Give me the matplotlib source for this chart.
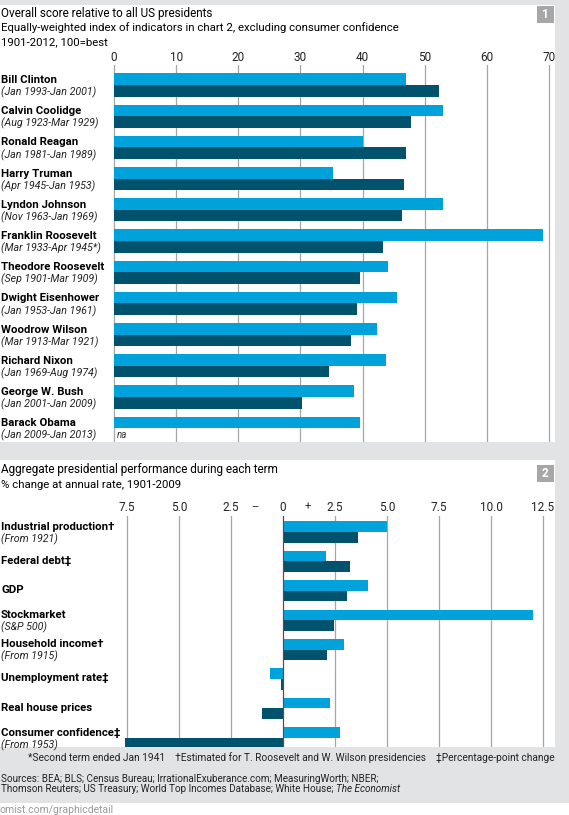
import numpy as np
import matplotlib.pyplot as plt
import matplotlib.transforms as mtransforms
from matplotlib.patches import Rectangle

# chart 1 data
presidents = ['Bill Clinton', 'Calvin Coolidge', 'Ronald Reagan', 'Harry Truman',
              'Lyndon Johnson', 'Franklin Roosevelt', 'Theodore Roosevelt',
              'Dwight Eisenhower', 'Woodrow Wilson', 'Richard Nixon',
              'George W. Bush', 'Barack Obama']
terms = ['(Jan 1993-Jan 2001)', '(Aug 1923-Mar 1929)', '(Jan 1981-Jan 1989)',
         '(Apr 1945-Jan 1953)', '(Nov 1963-Jan 1969)', '(Mar 1933-Apr 1945*)',
         '(Sep 1901-Mar 1909)', '(Jan 1953-Jan 1961)', '(Mar 1913-Mar 1921)',
         '(Jan 1969-Aug 1974)', '(Jan 2001-Jan 2009)', '(Jan 2009-Jan 2013)']
score_light = [47.0, 52.9, 40.0, 35.2, 52.9, 69.0, 44.1, 45.6, 42.4, 43.8, 38.7, 39.6]
score_dark = [52.3, 47.8, 47.0, 46.6, 46.4, 43.3, 39.6, 39.1, 38.1, 34.6, 30.2, np.nan]
ticks1 = [0, 10, 20, 30, 40, 50, 60, 70]

# chart 2 data
indicators = ['Industrial production\u2020', 'Federal debt\u2021', 'GDP', 'Stockmarket',
              'Household income\u2020', 'Unemployment rate\u2021', 'Real house prices',
              'Consumer confidence\u2021']
ind_notes = ['(From 1921)', '', '', '(S&P 500)', '(From 1915)', '', '', '(From 1953)']
perf_light = [4.98, 2.05, 4.07, 12.0, 2.92, -0.61, 2.25, 2.73]
perf_dark = [3.59, 3.24, 3.08, 2.47, 2.11, -0.09, -1.01, -7.76]
ticks2 = [-7.5, -5.0, -2.5, 0, 2.5, 5.0, 7.5, 10.0, 12.5]
ticklabels2 = ['7.5', '5.0', '2.5', '0', '2.5', '5.0', '7.5', '10.0', '12.5']

LIGHT = '#00a2dc'
DARK = '#00526d'
GRID = '#a6a6a6'
BG = '#e2e3e4'

plt.rcParams['font.family'] = ['Liberation Sans Narrow', 'Roboto', 'DejaVu Sans']
W, H = 569, 815
fig = plt.figure(figsize=(W / 100, H / 100), dpi=100, facecolor=BG)

# pixel-space background axes
bg = fig.add_axes([0, 0, 1, 1])
bg.set_xlim(0, W)
bg.set_ylim(H, 0)
bg.axis('off')
bg.add_patch(Rectangle((0, 5), 555, 437, color='white', lw=0))
bg.add_patch(Rectangle((0, 460), 555, 287, color='white', lw=0))
bg.add_patch(Rectangle((0, 803), W, 12, color='white', lw=0))


def px_axes(x0, x1, y0, y1):
    return fig.add_axes([x0 / W, 1 - y1 / H, (x1 - x0) / W, (y1 - y0) / H])


def badge(y, label):
    bg.add_patch(Rectangle((537, y), 17, 17, color='#a7a7a7', lw=0))
    bg.text(545.5, y + 8.5, label, color='white', fontsize=8.5, fontweight='bold',
            ha='center', va='center')


# headers
bg.text(1, 13, 'Overall score relative to all US presidents', fontsize=8.5, va='center')
bg.text(1, 27.5, 'Equally-weighted index of indicators in chart 2, excluding consumer confidence',
        fontsize=8.2, va='center')
bg.text(1, 42, '1901-2012, 100=best', fontsize=8.2, va='center')
badge(6, '1')

bg.text(1, 470, 'Aggregate presidential performance during each term', fontsize=8.5, va='center')
bg.text(1, 485, '% change at annual rate, 1901-2009', fontsize=8.2, va='center')
badge(465, '2')

# ---- chart 1
px1 = 6.214
ax1 = px_axes(114 - 0.3 * px1, 114 + 70.3 * px1, 65, 442)
ax1.set_xlim(-0.3, 70.3)
pitch1 = 31.2
ax1.set_ylim((442 - 85) / pitch1, (65 - 85) / pitch1)
ax1.patch.set_alpha(0)
rows1 = np.arange(len(presidents))
ax1.barh(rows1 - 0.185, score_light, height=0.37, color=LIGHT, zorder=2)
ax1.barh(rows1 + 0.185, score_dark, height=0.37, color=DARK, zorder=2)
ax1.set_xticks(ticks1)
ax1.set_yticks([])
ax1.xaxis.tick_top()
ax1.tick_params(axis='x', length=0, pad=0.5, labelsize=8.5, labelcolor='#222222')
ax1.grid(axis='x', color=GRID, lw=0.9)
ax1.set_axisbelow(True)
for s in ax1.spines.values():
    s.set_visible(False)

tr1 = mtransforms.blended_transform_factory(bg.transData, ax1.transData)
for i, (nm, tm) in enumerate(zip(presidents, terms)):
    ax1.text(1, i - 0.16, nm, transform=tr1, fontsize=8.2, fontweight='bold',
             va='center', clip_on=False)
    ax1.text(1, i + 0.24, tm, transform=tr1, fontsize=7.7, style='italic',
             va='center', color='#222222', clip_on=False)
    if np.isnan(score_dark[i]):
        ax1.text(0.4, i + 0.22, 'na', fontsize=7, style='italic', va='center', color='#333333')

# ---- chart 2
px2 = 20.8
ax2 = px_axes(283 - 7.6 * px2, 283 + 12.6 * px2, 516, 747)
ax2.set_xlim(-7.6, 12.6)
pitch2 = 29.4
ax2.set_ylim((747 - 532) / pitch2, (516 - 532) / pitch2)
ax2.patch.set_alpha(0)
rows2 = np.arange(len(indicators))
ax2.barh(rows2 - 0.18, perf_light, height=0.36, color=LIGHT, zorder=2)
ax2.barh(rows2 + 0.18, perf_dark, height=0.36, color=DARK, zorder=2)
ax2.axvline(0, color='#e3120b', lw=0.8, zorder=3)
ax2.set_xticks(ticks2)
ax2.set_xticklabels(ticklabels2)
ax2.set_yticks([])
ax2.xaxis.tick_top()
ax2.tick_params(axis='x', length=0, pad=1.5, labelsize=8.5, labelcolor='#222222')
ax2.grid(axis='x', color=GRID, lw=0.9)
ax2.set_axisbelow(True)
for s in ax2.spines.values():
    s.set_visible(False)
top_lab = mtransforms.blended_transform_factory(ax2.transData, bg.transData)
ax2.text(-1.35, 507, '\u2013', transform=top_lab, fontsize=8, ha='center', va='center', color='#222222')
ax2.text(1.2, 507, '+', transform=top_lab, fontsize=8, ha='center', va='center', color='#222222')

tr2 = mtransforms.blended_transform_factory(bg.transData, ax2.transData)
for i, (nm, nt) in enumerate(zip(indicators, ind_notes)):
    if nt:
        ax2.text(1, i - 0.18, nm, transform=tr2, fontsize=8.2, fontweight='bold',
                 va='center', clip_on=False)
        ax2.text(1, i + 0.24, nt, transform=tr2, fontsize=7.7, style='italic',
                 va='center', color='#222222', clip_on=False)
    else:
        ax2.text(1, i - 0.02, nm, transform=tr2, fontsize=8.2, fontweight='bold',
                 va='center', clip_on=False)

# footer
bg.text(555, 758, '*Second term ended Jan 1941    \u2020Estimated for T. Roosevelt and W. Wilson '
        'presidencies    \u2021Percentage-point change', fontsize=7.3, ha='right', va='center',
        color='#222222')
bg.text(1, 779, 'Sources: BEA; BLS; Census Bureau; IrrationalExuberance.com; MeasuringWorth; NBER;',
        fontsize=7.1, va='center', color='#222222')
src2 = bg.text(1, 789.5, 'Thomson Reuters; US Treasury; World Top Incomes Database; White House; ',
               fontsize=7.1, va='center', color='#222222')
bg.annotate('The Economist', xy=(1, 0.5), xycoords=src2, fontsize=7.1, style='italic',
            va='center', color='#222222')
bg.text(-1, 810, 'omist.com/graphicdetail', fontsize=7.5, va='center', color='#9a9a9a')

fig.savefig('out.png', dpi=100, facecolor=BG)
